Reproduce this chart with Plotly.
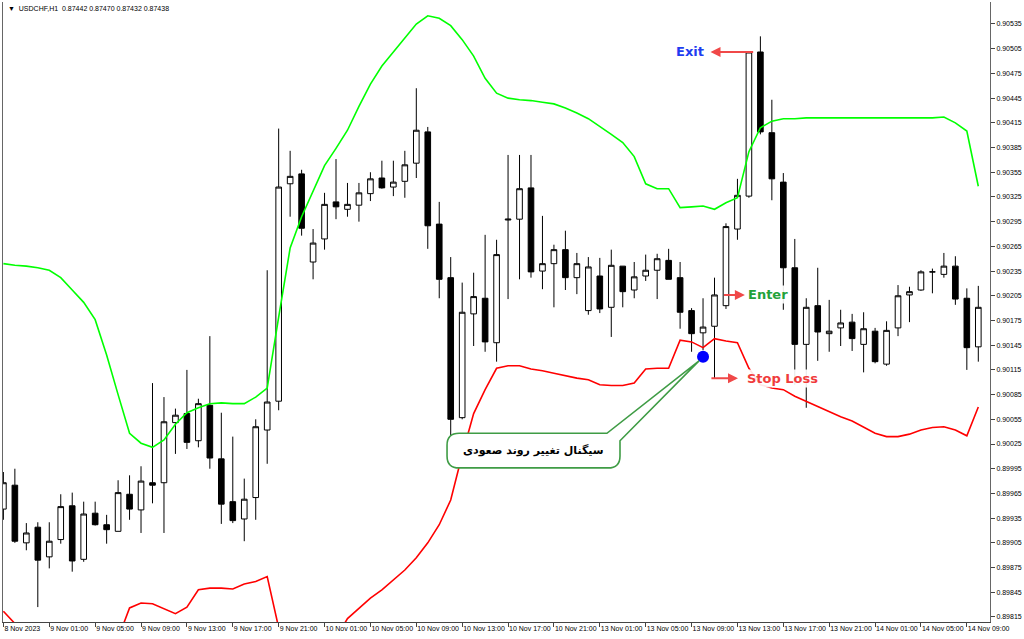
import plotly.graph_objects as go

# ---------------- data ----------------
header_text = "▼  USDCHF,H1  0.87442 0.87470 0.87432 0.87438"

tick_idx = [0, 4, 8, 12, 16, 20, 24, 28, 32, 36, 40, 44, 48, 52, 56, 60, 64, 68, 72, 76, 80, 84]
tick_labels = ["8 Nov 2023", "9 Nov 01:00", "9 Nov 05:00", "9 Nov 09:00", "9 Nov 13:00",
               "9 Nov 17:00", "9 Nov 21:00", "10 Nov 01:00", "10 Nov 05:00", "10 Nov 09:00",
               "10 Nov 13:00", "10 Nov 17:00", "10 Nov 21:00", "13 Nov 01:00", "13 Nov 05:00",
               "13 Nov 09:00", "13 Nov 13:00", "13 Nov 17:00", "13 Nov 21:00", "14 Nov 01:00",
               "14 Nov 05:00", "14 Nov 09:00"]

y_ticks = [0.89815, 0.89845, 0.89875, 0.89905, 0.89935, 0.89965, 0.89995, 0.90025, 0.90055,
           0.90085, 0.90115, 0.90145, 0.90175, 0.90205, 0.90235, 0.90265, 0.90295, 0.90325,
           0.90355, 0.90385, 0.90415, 0.90445, 0.90475, 0.90505, 0.90535]

open_ = [0.89946, 0.89975, 0.89905, 0.89924, 0.89888, 0.89909, 0.89950, 0.89885, 0.89941, 0.89927,
         0.89919, 0.89964, 0.89945, 0.89978, 0.89978, 0.90051, 0.90062, 0.90029, 0.90072, 0.90007,
         0.89955, 0.89934, 0.89960, 0.90042, 0.90077, 0.90341, 0.90353, 0.90246, 0.90274, 0.90319,
         0.90310, 0.90315, 0.90329, 0.90348, 0.90337, 0.90344, 0.90366, 0.90404, 0.90292, 0.90227,
         0.90057, 0.90183, 0.90202, 0.90148, 0.90297, 0.90298, 0.90336, 0.90235, 0.90244, 0.90261,
         0.90227, 0.90187, 0.90229, 0.90191, 0.90241, 0.90212, 0.90229, 0.90236, 0.90248, 0.90227,
         0.90187, 0.90160, 0.90168, 0.90193, 0.90286, 0.90326, 0.90501, 0.90403, 0.90343, 0.90239,
         0.90146, 0.90193, 0.90159, 0.90166, 0.90173, 0.90146, 0.90162, 0.90122, 0.90166, 0.90206,
         0.90212, 0.90234, 0.90231, 0.90241, 0.90202, 0.90143]

high = [0.89991, 0.89995, 0.89929, 0.89930, 0.89930, 0.89964, 0.89966, 0.89955, 0.89955, 0.89939,
        0.89981, 0.89987, 0.89998, 0.90099, 0.90082, 0.90068, 0.90115, 0.90080, 0.90156, 0.90063,
        0.90034, 0.89983, 0.90055, 0.90236, 0.90408, 0.90381, 0.90358, 0.90286, 0.90330, 0.90371,
        0.90342, 0.90342, 0.90355, 0.90369, 0.90369, 0.90381, 0.90457, 0.90410, 0.90319, 0.90252,
        0.90221, 0.90233, 0.90279, 0.90273, 0.90376, 0.90376, 0.90376, 0.90302, 0.90267, 0.90284,
        0.90257, 0.90252, 0.90251, 0.90261, 0.90241, 0.90246, 0.90255, 0.90256, 0.90262, 0.90246,
        0.90190, 0.90202, 0.90227, 0.90293, 0.90347, 0.90501, 0.90520, 0.90443, 0.90354, 0.90274,
        0.90202, 0.90239, 0.90200, 0.90188, 0.90183, 0.90185, 0.90166, 0.90174, 0.90218, 0.90216,
        0.90236, 0.90238, 0.90257, 0.90253, 0.90214, 0.90217]

low = [0.89933, 0.89905, 0.89896, 0.89827, 0.89874, 0.89904, 0.89870, 0.89882, 0.89926, 0.89904,
       0.89919, 0.89933, 0.89917, 0.89953, 0.89917, 0.90013, 0.90019, 0.90021, 0.89995, 0.89928,
       0.89929, 0.89907, 0.89933, 0.90001, 0.90066, 0.90301, 0.90278, 0.90225, 0.90261, 0.90298,
       0.90301, 0.90295, 0.90320, 0.90335, 0.90326, 0.90324, 0.90348, 0.90262, 0.90202, 0.90035,
       0.90055, 0.90144, 0.90137, 0.90125, 0.90201, 0.90225, 0.90227, 0.90213, 0.90191, 0.90212,
       0.90207, 0.90182, 0.90184, 0.90155, 0.90191, 0.90202, 0.90223, 0.90201, 0.90225, 0.90165,
       0.90137, 0.90139, 0.90105, 0.90189, 0.90273, 0.90324, 0.90401, 0.90321, 0.90188, 0.90097,
       0.90069, 0.90126, 0.90137, 0.90144, 0.90138, 0.90112, 0.90123, 0.90120, 0.90156, 0.90173,
       0.90211, 0.90208, 0.90227, 0.90194, 0.90115, 0.90125]

close = [0.89978, 0.89907, 0.89917, 0.89884, 0.89907, 0.89949, 0.89883, 0.89940, 0.89927, 0.89921,
         0.89966, 0.89946, 0.89980, 0.89975, 0.90052, 0.90060, 0.90027, 0.90074, 0.90008, 0.89952,
         0.89932, 0.89958, 0.90046, 0.90076, 0.90337, 0.90350, 0.90287, 0.90269, 0.90316, 0.90313,
         0.90316, 0.90330, 0.90347, 0.90336, 0.90343, 0.90364, 0.90406, 0.90290, 0.90225, 0.90055,
         0.90185, 0.90204, 0.90149, 0.90255, 0.90298, 0.90335, 0.90234, 0.90244, 0.90261, 0.90227,
         0.90244, 0.90240, 0.90189, 0.90242, 0.90210, 0.90228, 0.90236, 0.90250, 0.90225, 0.90185,
         0.90159, 0.90167, 0.90206, 0.90289, 0.90327, 0.90501, 0.90404, 0.90347, 0.90239, 0.90146,
         0.90191, 0.90161, 0.90162, 0.90172, 0.90153, 0.90165, 0.90125, 0.90163, 0.90205, 0.90210,
         0.90234, 0.90234, 0.90241, 0.90201, 0.90142, 0.90191]

upper_band = [0.90244, 0.90242, 0.90241, 0.90239, 0.90236, 0.90227, 0.90212, 0.90197, 0.90176, 0.90133,
              0.90085, 0.90038, 0.90026, 0.90021, 0.90030, 0.90049, 0.90063, 0.90069, 0.90074, 0.90075,
              0.90074, 0.90074, 0.90082, 0.90093, 0.90179, 0.90263, 0.90301, 0.90333, 0.90363, 0.90384,
              0.90406, 0.90435, 0.90462, 0.90484, 0.90501, 0.90518, 0.90535, 0.90545, 0.90542, 0.90533,
              0.90516, 0.90496, 0.90469, 0.90451, 0.90445, 0.90443, 0.90442, 0.90440, 0.90438, 0.90433,
              0.90427, 0.90420, 0.90411, 0.90401, 0.90391, 0.90374, 0.90341, 0.90335, 0.90335, 0.90312,
              0.90313, 0.90314, 0.90310, 0.90318, 0.90324, 0.90380, 0.90409, 0.90417, 0.90420, 0.90420,
              0.90421, 0.90421, 0.90421, 0.90421, 0.90421, 0.90421, 0.90421, 0.90421, 0.90421, 0.90421,
              0.90421, 0.90421, 0.90422, 0.90415, 0.90405, 0.90338]

lower_band = [0.89822, 0.89807, 0.89790, 0.89780, 0.89772, 0.89772, 0.89775, 0.89778, 0.89782, 0.89786,
              0.89789, 0.89826, 0.89832, 0.89831, 0.89825, 0.89819, 0.89827, 0.89848, 0.89850, 0.89850,
              0.89849, 0.89855, 0.89858, 0.89864, 0.89802, 0.89770, 0.89755, 0.89750, 0.89760, 0.89790,
              0.89813, 0.89826, 0.89838, 0.89848, 0.89860, 0.89872, 0.89887, 0.89905, 0.89927, 0.89957,
              0.90012, 0.90062, 0.90091, 0.90117, 0.90120, 0.90120, 0.90116, 0.90114, 0.90111, 0.90108,
              0.90105, 0.90103, 0.90097, 0.90096, 0.90096, 0.90099, 0.90116, 0.90117, 0.90117, 0.90151,
              0.90149, 0.90142, 0.90153, 0.90150, 0.90148, 0.90117, 0.90097, 0.90093, 0.90091, 0.90083,
              0.90077, 0.90070, 0.90064, 0.90058, 0.90053, 0.90045, 0.90038, 0.90034, 0.90034, 0.90037,
              0.90042, 0.90045, 0.90046, 0.90042, 0.90035, 0.90070]

signal_idx = 61
signal_price = 0.90131
signal_text = "سیگنال تغییر روند صعودی"

exit_idx, exit_price = 65, 0.90501
enter_idx, enter_price = 63, 0.90206
stop_idx, stop_price = 62, 0.90105

bars = list(range(len(open_)))

# ---------------- figure ----------------
fig = go.Figure()

fig.add_trace(go.Candlestick(
    x=bars, open=open_, high=high, low=low, close=close,
    increasing=dict(line=dict(color="black", width=1), fillcolor="white"),
    decreasing=dict(line=dict(color="black", width=1), fillcolor="black"),
    whiskerwidth=0, hoverinfo="skip", showlegend=False))

fig.add_trace(go.Scatter(x=bars, y=upper_band, mode="lines",
                         line=dict(color="#00ff00", width=1.6), hoverinfo="skip", showlegend=False))
fig.add_trace(go.Scatter(x=bars, y=lower_band, mode="lines",
                         line=dict(color="#ff0000", width=1.6), hoverinfo="skip", showlegend=False))

# callout bubble (data coordinates: bar index, price)
x0, x1, rx = 38.68, 53.76, 1.05
yt, yb, ry = 0.90038, 0.89996, 0.000146
tail_x0, tail_y1 = 52.62, 0.90029
tip_x, tip_y = signal_idx - 0.35, signal_price - 0.00005
path = (f"M {x0+rx},{yt} L {tail_x0},{yt} L {tip_x},{tip_y} L {x1},{tail_y1} "
        f"L {x1},{yb+ry} Q {x1},{yb} {x1-rx},{yb} L {x0+rx},{yb} Q {x0},{yb} {x0},{yb+ry} "
        f"L {x0},{yt-ry} Q {x0},{yt} {x0+rx},{yt} Z")
fig.add_shape(type="path", path=path, xref="x", yref="y", layer="above",
              fillcolor="white", line=dict(color="#3f9c45", width=1.6))

fig.add_trace(go.Scatter(x=[signal_idx], y=[signal_price], mode="markers",
                         marker=dict(color="#0000ff", size=12), hoverinfo="skip", showlegend=False))

fig.add_annotation(x=(x0 + x1) / 2, y=(yt + yb) / 2, xref="x", yref="y", showarrow=False,
                   text=f"<b>{signal_text}</b>",
                   font=dict(family="DejaVu Sans", size=11, color="black"))

arrow_col = "#f04848"
# Exit arrow (points left to label)
fig.add_annotation(x=exit_idx - 3.35, y=exit_price, ax=exit_idx + 0.5, ay=exit_price,
                   xref="x", yref="y", axref="x", ayref="y", text="", showarrow=True,
                   arrowhead=2, arrowsize=1, arrowwidth=2, arrowcolor=arrow_col, standoff=0)
fig.add_annotation(x=exit_idx - 5.15, y=exit_price, xref="x", yref="y", showarrow=False,
                   text="<b>Exit</b>", bgcolor="rgba(255,255,255,0.9)",
                   font=dict(family="DejaVu Sans", size=13, color="#1f3df0"))
# Enter arrow
fig.add_annotation(x=enter_idx + 1.65, y=enter_price, ax=enter_idx - 0.3, ay=enter_price,
                   xref="x", yref="y", axref="x", ayref="y", text="", showarrow=True,
                   arrowhead=2, arrowsize=1, arrowwidth=2, arrowcolor=arrow_col, standoff=0)
fig.add_annotation(x=enter_idx + 3.66, y=enter_price, xref="x", yref="y", showarrow=False,
                   text="<b>Enter</b>", bgcolor="rgba(255,255,255,0.9)",
                   font=dict(family="DejaVu Sans", size=13, color="#23a23a"))
# Stop loss arrow
fig.add_annotation(x=stop_idx + 2.05, y=stop_price, ax=stop_idx - 0.4, ay=stop_price,
                   xref="x", yref="y", axref="x", ayref="y", text="", showarrow=True,
                   arrowhead=2, arrowsize=1, arrowwidth=2, arrowcolor=arrow_col, standoff=0)
fig.add_annotation(x=stop_idx + 5.9, y=stop_price, xref="x", yref="y", showarrow=False,
                   text="<b>Stop Loss</b>", bgcolor="rgba(255,255,255,0.9)",
                   font=dict(family="DejaVu Sans", size=13, color="#f03c3c"))

# header
fig.add_annotation(x=0.003, y=0.989, xref="paper", yref="paper", xanchor="left", yanchor="middle",
                   showarrow=False, text=header_text,
                   font=dict(family="Liberation Sans", size=7, color="black"))

fig.update_layout(
    template="none",
    width=1024, height=639, autosize=False,
    margin=dict(l=3, r=34, t=2, b=17, pad=0),
    paper_bgcolor="white", plot_bgcolor="white",
    showlegend=False,
    font=dict(family="Liberation Sans", size=7, color="black"),
    xaxis=dict(range=[-0.035, 86.02], tickvals=tick_idx, ticktext=tick_labels,
               ticks="outside", ticklen=4, tickcolor="#444", tickwidth=1, tickangle=0,
               showline=True, linecolor="#444", linewidth=1, mirror=False,
               showgrid=False, zeroline=False, ticklabelposition="outside right",
               ticklabelstandoff=0,
               tickfont=dict(family="Liberation Sans", size=7, color="black"),
               rangeslider=dict(visible=False), automargin=False, fixedrange=True),
    yaxis=dict(side="right", range=[0.898089, 0.905617], tickvals=y_ticks,
               ticktext=[f"{v:.5f}" for v in y_ticks],
               ticks="outside", ticklen=4, tickcolor="#444", tickwidth=1,
               showline=True, linecolor="#666", linewidth=1, mirror=True,
               showgrid=False, zeroline=False,
               tickfont=dict(family="Liberation Sans", size=7, color="black"),
               automargin=False, fixedrange=True),
)

fig.write_html("out.html", config={"displayModeBar": False},
               post_script="document.body.style.margin='0px';document.body.style.overflow='hidden';")
